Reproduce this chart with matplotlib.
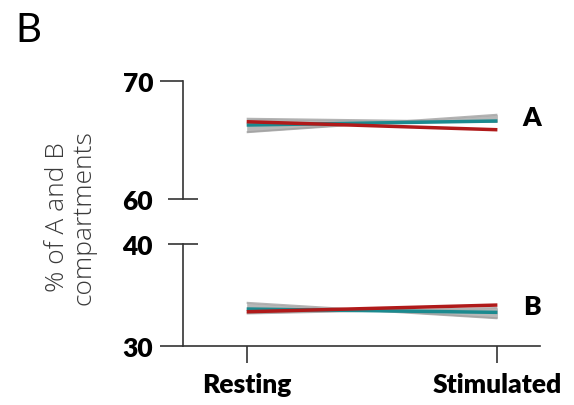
import matplotlib
matplotlib.use('Agg')
import matplotlib.pyplot as plt
from matplotlib.ticker import FixedLocator, FixedFormatter

# conditions
conditions = ['Resting', 'Stimulated']

# A compartment (%)
a_red = [66.55, 65.87]
a_teal = [66.27, 66.61]
a_gray_1 = [66.80, 66.53]
a_gray_2 = [65.66, 67.14]

# B compartment (%)
b_red = [33.34, 34.00]
b_teal = [33.61, 33.28]
b_gray_1 = [34.22, 32.70]
b_gray_2 = [33.17, 33.71]

RED = '#b01a1a'
TEAL = '#1b8a8f'
GRAY = '#a0a0a0'
SPINE = '#333333'
FS = 19

plt.rcParams['font.family'] = ['Lato', 'DejaVu Sans']

fig = plt.figure(figsize=(5.74, 4.06), dpi=100)
ax_top = fig.add_axes([0.3188, 0.5074, 0.622, 0.2906])
ax_bot = fig.add_axes([0.3188, 0.146, 0.622, 0.2505])

x = list(range(len(conditions)))


def draw_group(ax, red, teal, g1, g2):
    ax.fill_between(x, g1, g2, color=GRAY, alpha=0.75, lw=0, interpolate=True)
    ax.plot(x, g1, color=GRAY, lw=1.5, alpha=0.8, solid_capstyle='butt')
    ax.plot(x, g2, color=GRAY, lw=1.5, alpha=0.8, solid_capstyle='butt')
    ax.plot(x, teal, color=TEAL, lw=2.5, solid_capstyle='butt')
    ax.plot(x, red, color=RED, lw=2.5, solid_capstyle='butt')


def style_yaxis(ax, lo, hi, edge_is_top):
    for s in ['top', 'right']:
        ax.spines[s].set_visible(False)
    ax.spines['left'].set_color(SPINE)
    ax.spines['left'].set_linewidth(1.2)
    ax.set_xlim(-0.254, 1.17)
    ax.set_ylim(lo, hi)
    # inner break tick (crossing the spine) and outer tick
    inner = lo if edge_is_top else hi
    outer = hi if edge_is_top else lo
    ax.yaxis.set_major_locator(FixedLocator([inner]))
    ax.yaxis.set_major_formatter(FixedFormatter([str(inner)]))
    ax.yaxis.set_minor_locator(FixedLocator([outer]))
    ax.yaxis.set_minor_formatter(FixedFormatter([str(outer)]))
    ax.tick_params(axis='y', which='major', direction='inout', length=22,
                   width=1.2, color=SPINE, pad=11, labelsize=FS)
    ax.tick_params(axis='y', which='minor', direction='out', length=16.5,
                   width=1.2, color=SPINE, pad=5, labelsize=FS)
    for lab in ax.get_yticklabels(which='both'):
        lab.set_fontweight('heavy')


draw_group(ax_top, a_red, a_teal, a_gray_1, a_gray_2)
draw_group(ax_bot, b_red, b_teal, b_gray_1, b_gray_2)

style_yaxis(ax_top, 60, 70, True)
style_yaxis(ax_bot, 30, 40, False)

ax_top.spines['bottom'].set_visible(False)
ax_top.set_xticks([])

ax_bot.spines['bottom'].set_color(SPINE)
ax_bot.spines['bottom'].set_linewidth(1.2)
ax_bot.set_xticks(x)
ax_bot.set_xticklabels(conditions, fontweight='heavy', fontsize=FS)
ax_bot.tick_params(axis='x', direction='out', length=12, width=1.2,
                   color=SPINE, pad=7)

ax_top.text(1.137, 66.95, 'A', fontsize=FS, fontweight='heavy',
            ha='center', va='center')
ax_bot.text(1.137, 33.9, 'B', fontsize=FS, fontweight='heavy',
            ha='center', va='center')

fig.text(0.123, 0.465, '% of A and B\ncompartments', rotation=90,
         ha='center', va='center', fontsize=19, color='#3a3a3a',
         fontweight='light', family=['Open Sans', 'DejaVu Sans'],
         linespacing=1.05)
fig.text(0.026, 0.924, 'B', fontsize=29, ha='left', va='center')

fig.savefig('out.png', dpi=100)
